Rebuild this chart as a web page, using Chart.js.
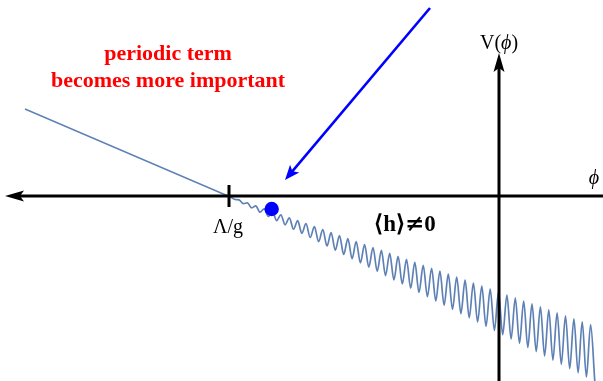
<!DOCTYPE html>
<html>
<head>
<meta charset="utf-8">
<script src="https://cdn.jsdelivr.net/npm/chart.js@4/dist/chart.umd.min.js"></script>
<style>
  html, body { margin: 0; padding: 0; background: #ffffff; }
  canvas { display: block; }
</style>
</head>
<body>
<canvas id="pot" width="603" height="381"></canvas>
<script>
// Field values (phi) and potential V(phi), in plot units.
// Linear slope before the barrier scale Lambda/g.
const slopePhi = [-47.4, -27.1];
const slopeV   = [8.7, 0.0];

// Beyond Lambda/g the periodic term switches on: successive maxima / minima.
const wavePhi = [
  -27.10,
  -26.83, -26.41, -25.99, -25.57, -25.16, -24.74, -24.32, -23.90, -23.48, -23.06,
  -22.65, -22.23, -21.81, -21.39, -20.97, -20.55, -20.13, -19.72, -19.30, -18.88,
  -18.46, -18.04, -17.62, -17.20, -16.79, -16.37, -15.95, -15.53, -15.11, -14.69,
  -14.28, -13.86, -13.44, -13.02, -12.60, -12.18, -11.76, -11.35, -10.93, -10.51,
  -10.09, -9.67, -9.25, -8.83, -8.42, -8.00, -7.58, -7.16, -6.74, -6.32,
  -5.91, -5.49, -5.07, -4.65, -4.23, -3.81, -3.39, -2.98, -2.56, -2.14,
  -1.72, -1.30, -0.88, -0.46, -0.05, 0.37, 0.79, 1.21, 1.63, 2.05,
  2.47, 2.88, 3.30, 3.72, 4.14, 4.56, 4.98, 5.39, 5.81, 6.23,
  6.65, 7.07, 7.49, 7.91, 8.32, 8.74, 9.16, 9.58
];
const waveV = [
  0.00,
  -0.10, -0.35, -0.39, -0.77, -0.69, -1.19, -0.99, -1.62, -1.28, -2.04,
  -1.58, -2.46, -1.88, -2.88, -2.18, -3.31, -2.47, -3.73, -2.77, -4.15,
  -3.07, -4.57, -3.36, -5.00, -3.66, -5.42, -3.96, -5.84, -4.26, -6.27,
  -4.55, -6.69, -4.85, -7.11, -5.15, -7.53, -5.44, -7.96, -5.74, -8.38,
  -6.04, -8.80, -6.34, -9.22, -6.63, -9.65, -6.93, -10.07, -7.23, -10.49,
  -7.52, -10.91, -7.82, -11.34, -8.12, -11.76, -8.42, -12.18, -8.71, -12.60,
  -9.01, -13.03, -9.31, -13.45, -9.60, -13.87, -9.90, -14.30, -10.20, -14.72,
  -10.50, -15.14, -10.79, -15.56, -11.09, -15.99, -11.39, -16.41, -11.68, -16.83,
  -11.98, -17.26, -12.28, -17.68, -12.58, -18.10, -12.87, -18.52
];

// Where the field currently sits.
const ballPhi = [-22.73];
const ballV   = [-1.3];

// Barrier position on the phi axis.
const barrierPhi = -27.0;

const toPoints = (xs, ys) => xs.map((v, i) => ({ x: v, y: ys[i] }));

const CURVE = '#5e81b5';
const SERIF = '"Liberation Serif", "Times New Roman", serif';

function arrowHead(ctx, tx, ty, ang, len, half, notch) {
  // Tip at (tx,ty), pointing along angle ang.
  const c = Math.cos(ang), s = Math.sin(ang);
  const bx = tx - c * len, by = ty - s * len;
  ctx.beginPath();
  ctx.moveTo(tx, ty);
  ctx.lineTo(bx - s * half, by + c * half);
  ctx.lineTo(tx - c * (len - notch), ty - s * (len - notch));
  ctx.lineTo(bx + s * half, by - c * half);
  ctx.closePath();
  ctx.fill();
}

// Draws a run of [text, font] pieces centred on cx.
function centredRun(ctx, pieces, cx, baseY) {
  let total = 0;
  const widths = pieces.map(([t, f]) => { ctx.font = f; const w = ctx.measureText(t).width; total += w; return w; });
  let sx = cx - total / 2;
  ctx.textAlign = 'left';
  pieces.forEach(([t, f], i) => { ctx.font = f; ctx.fillText(t, sx, baseY); sx += widths[i]; });
}

const decorations = {
  id: 'decorations',
  afterDatasetsDraw(chart) {
    const { ctx, scales: { x, y } } = chart;
    const px = v => x.getPixelForValue(v);
    const py = v => y.getPixelForValue(v);
    ctx.save();

    // Axes with arrow heads
    ctx.strokeStyle = '#000';
    ctx.fillStyle = '#000';
    ctx.lineWidth = 3;
    const y0 = py(0), x0 = px(0);
    const leftTip = px(-49.4), topTip = py(14.3);
    ctx.beginPath();
    ctx.moveTo(px(10.4), y0);
    ctx.lineTo(leftTip + 10, y0);
    ctx.stroke();
    arrowHead(ctx, leftTip, y0, Math.PI, 19, 5.5, 4);

    ctx.beginPath();
    ctx.moveTo(x0, py(-18.6));
    ctx.lineTo(x0, topTip + 10);
    ctx.stroke();
    arrowHead(ctx, x0, topTip, -Math.PI / 2, 19, 5.5, 4);

    // Tick at Lambda/g
    ctx.beginPath();
    ctx.moveTo(px(barrierPhi), py(1.1));
    ctx.lineTo(px(barrierPhi), py(-1.1));
    ctx.stroke();

    // Axis labels
    ctx.textBaseline = 'alphabetic';
    ctx.textAlign = 'center';
    ctx.font = '20px ' + SERIF;
    ctx.fillText('\u039B/g', px(barrierPhi) - 1, 233);

    const reg = '20px ' + SERIF, ital = 'italic 20px ' + SERIF;
    centredRun(ctx, [['V(', reg], ['\u03D5', ital], [')', reg]], x0, 49);

    ctx.textAlign = 'center';
    ctx.font = ital;
    ctx.fillText('\u03D5', 594, 184);

    // Vacuum expectation value note
    centredRun(ctx, [
      ['\u27E8h\u27E9', 'bold 23px ' + SERIF],
      ['\u2260', 'bold 23px "DejaVu Serif", serif'],
      ['0', 'bold 23px ' + SERIF]
    ], 405, 231);

    // Red annotation
    ctx.textAlign = 'center';
    ctx.fillStyle = '#ff0000';
    ctx.font = 'bold 22px ' + SERIF;
    ctx.fillText('periodic term', 168, 60);
    ctx.fillText('becomes more important', 168, 87);

    // Blue pointer arrow
    ctx.strokeStyle = '#0000ff';
    ctx.fillStyle = '#0000ff';
    ctx.lineWidth = 2.6;
    const ax = px(-6.9), ay = py(18.8), bx = px(-21.4), by = py(1.6);
    const ang = Math.atan2(by - ay, bx - ax);
    ctx.beginPath();
    ctx.moveTo(ax, ay);
    ctx.lineTo(bx - Math.cos(ang) * 8, by - Math.sin(ang) * 8);
    ctx.stroke();
    arrowHead(ctx, bx, by, ang, 15, 6, 3.5);

    ctx.restore();
  }
};

new Chart(document.getElementById('pot'), {
  type: 'scatter',
  data: {
    datasets: [
      {
        label: 'field',
        data: toPoints(ballPhi, ballV),
        pointRadius: 7.2,
        pointBackgroundColor: '#0000ff',
        pointBorderWidth: 0,
        showLine: false
      },
      {
        label: 'slope',
        data: toPoints(slopePhi, slopeV),
        showLine: true,
        borderColor: CURVE,
        borderWidth: 1.4,
        pointRadius: 0,
        tension: 0
      },
      {
        label: 'wave',
        data: toPoints(wavePhi, waveV),
        showLine: true,
        borderColor: CURVE,
        borderWidth: 1.7,
        pointRadius: 0,
        cubicInterpolationMode: 'monotone'
      }
    ]
  },
  options: {
    responsive: false,
    animation: false,
    devicePixelRatio: 1,
    layout: { padding: 0, autoPadding: false },
    plugins: { legend: { display: false }, tooltip: { enabled: false } },
    scales: {
      x: { type: 'linear', display: false, min: -49.9, max: 10.4 },
      y: { type: 'linear', display: false, min: -18.5, max: 19.6 }
    }
  },
  plugins: [decorations]
});
</script>
</body>
</html>
